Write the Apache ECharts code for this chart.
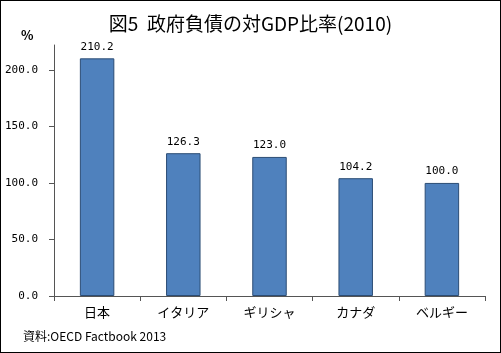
<!DOCTYPE html>
<html>
<head>
<meta charset="utf-8">
<script src="https://cdn.jsdelivr.net/npm/echarts@6/dist/echarts.min.js"></script>
<style>
  html, body { margin: 0; padding: 0; background: #fff; }
  #chart { width: 501px; height: 353px; box-sizing: border-box; border: 1px solid #000; }
</style>
</head>
<body>
<div id="chart"></div>
<script>
// 政府負債の対GDP比率(2010)
const countries = ['日本', 'イタリア', 'ギリシャ', 'カナダ', 'ベルギー'];
const debtRatio = [210.2, 126.3, 123.0, 104.2, 100.0];
const yTicks = [0, 50, 100, 150, 200];

const chart = echarts.init(document.getElementById('chart'));

const option = {
    animation: false,
    title: {
        text: '図5  政府負債の対GDP比率(2010)',
        left: 'center',
        top: 8,
        textStyle: { fontFamily: 'Noto Sans CJK JP', fontSize: 19, fontWeight: 'normal', color: '#000' }
    },
    graphic: [
        { type: 'text', left: 20, top: 28, style: { text: '%', font: 'bold 13px "Noto Sans CJK JP"', fill: '#000' } },
        { type: 'text', left: 22, top: 329, style: { text: '資料:OECD Factbook 2013', font: '12px "Noto Sans CJK JP"', fill: '#000' } }
    ],
    grid: { left: 53, right: 15, top: 44, bottom: 56 },
    xAxis: {
        type: 'category',
        data: countries,
        axisLine: { lineStyle: { color: '#555' } },
        axisTick: { show: true, length: 5, lineStyle: { color: '#555' } },
        axisLabel: { margin: 10, fontFamily: 'Noto Sans CJK JP', fontSize: 13, color: '#000' }
    },
    yAxis: {
        type: 'value',
        min: 0,
        max: 222,
        interval: 50,
        splitLine: { show: false },
        axisLine: { show: true, lineStyle: { color: '#555' } },
        axisTick: { show: true, length: 5, lineStyle: { color: '#555' }, customValues: yTicks },
        axisLabel: {
            customValues: yTicks,
            margin: 16,
            fontFamily: 'DejaVu Sans Mono',
            fontSize: 11,
            color: '#000',
            formatter: v => v.toFixed(1)
        }
    },
    series: [{
        type: 'bar',
        data: debtRatio,
        barWidth: '40%',
        itemStyle: { color: '#4F81BD', borderColor: '#2c4d75', borderWidth: 1 },
        label: {
            show: true,
            position: 'top',
            distance: 6,
            fontFamily: 'DejaVu Sans Mono',
            fontSize: 11,
            color: '#000',
            formatter: p => p.value.toFixed(1)
        }
    }]
};

chart.setOption(option);
</script>
</body>
</html>
